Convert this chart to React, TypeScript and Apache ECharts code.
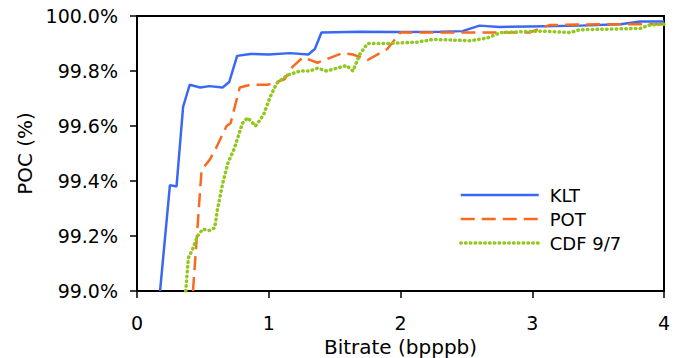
import React, { useEffect, useRef } from "react";
import * as echarts from "echarts";

const kltX = [0.175, 0.25, 0.30, 0.35, 0.40, 0.48, 0.55, 0.65, 0.70, 0.76, 0.86, 1.0, 1.16, 1.30, 1.35, 1.40, 1.69, 2.0, 2.3, 2.47, 2.6, 2.75, 2.98, 3.36, 3.67, 3.82, 4.0];
const kltY = [99.0, 99.385, 99.38, 99.67, 99.75, 99.74, 99.745, 99.74, 99.76, 99.855, 99.862, 99.86, 99.865, 99.86, 99.88, 99.94, 99.943, 99.942, 99.943, 99.945, 99.965, 99.96, 99.962, 99.965, 99.97, 99.98, 99.98];

const potX = [0.425, 0.49, 0.55, 0.59, 0.68, 0.71, 0.78, 0.86, 0.99, 1.06, 1.12, 1.18, 1.26, 1.37, 1.56, 1.64, 1.75, 1.90, 2.0, 2.35, 2.76, 2.98, 3.13, 3.51, 4.0];
const potY = [99.0, 99.44, 99.476, 99.51, 99.60, 99.61, 99.74, 99.75, 99.75, 99.76, 99.77, 99.815, 99.85, 99.83, 99.865, 99.86, 99.84, 99.88, 99.94, 99.94, 99.94, 99.94, 99.967, 99.97, 99.97];

const cdfX = [0.37, 0.39, 0.42, 0.46, 0.50, 0.55, 0.59, 0.61, 0.65, 0.69, 0.74, 0.80, 0.84, 0.90, 0.96, 1.01, 1.06, 1.14, 1.24, 1.31, 1.37, 1.44, 1.59, 1.64, 1.69, 1.75, 1.90, 2.13, 2.25, 2.53, 2.66, 2.76, 3.06, 3.29, 3.36, 3.82, 3.89, 4.0];
const cdfY = [99.0, 99.12, 99.15, 99.2, 99.225, 99.22, 99.23, 99.295, 99.39, 99.465, 99.52, 99.61, 99.63, 99.60, 99.64, 99.705, 99.755, 99.785, 99.80, 99.80, 99.81, 99.80, 99.82, 99.80, 99.86, 99.90, 99.90, 99.905, 99.915, 99.91, 99.92, 99.94, 99.945, 99.94, 99.95, 99.955, 99.967, 99.97];

const seriesNames = ["KLT", "POT", "CDF 9/7"];
const xTicks = [0, 1, 2, 3, 4];

const zip = (xs: number[], ys: number[]) => xs.map((x, i) => [x, ys[i]]);

const COLORS = ["#3a68f5", "#f96a1f", "#92c81e"];
const LINESTYLES: any[] = [
  { color: COLORS[0], width: 2.5, type: "solid" },
  { color: COLORS[1], width: 2.5, type: [14, 7] },
  { color: COLORS[2], width: 3.5, type: [0.5, 4.3], cap: "round" },
];

export default function App() {
  const ref = useRef<HTMLDivElement>(null);
  useEffect(() => {
    if (!ref.current) return;
    const chart = echarts.init(ref.current, undefined, { renderer: "svg" });
    const font = "DejaVu Sans";
    const datasets = [zip(kltX, kltY), zip(potX, potY), zip(cdfX, cdfY)];
    chart.setOption({
      animation: false,
      textStyle: { fontFamily: font },
      grid: {
        left: 137,
        right: 18,
        top: 16,
        bottom: 67,
        outerBoundsMode: "none",
        containLabel: false,
        show: true,
        borderColor: "#000",
        borderWidth: 2,
        backgroundColor: "#fff",
      },
      legend: {
        orient: "vertical",
        left: 459,
        top: 186,
        padding: 0,
        itemWidth: 78,
        itemHeight: 18,
        itemGap: 6,
        data: seriesNames.map((n, i) => ({ name: n, lineStyle: LINESTYLES[i] })),
        itemStyle: { opacity: 0 },
        textStyle: {
          fontFamily: font,
          fontSize: 18,
          color: "#000",
          lineHeight: 18,
          padding: [0, 0, 0, 6],
        },
      },
      xAxis: {
        type: "value",
        min: xTicks[0],
        max: xTicks[xTicks.length - 1],
        interval: 1,
        name: "Bitrate (bpppb)",
        nameLocation: "middle",
        nameGap: 46,
        nameTextStyle: { fontFamily: font, fontSize: 20, color: "#000" },
        axisLine: { show: true, onZero: false, lineStyle: { color: "#000", width: 2 } },
        axisTick: { show: true, length: 7, lineStyle: { color: "#000", width: 1.5 } },
        axisLabel: { fontFamily: font, fontSize: 19, color: "#000", margin: 22 },
        splitLine: { show: false },
      },
      yAxis: {
        type: "value",
        min: 99,
        max: 100,
        interval: 0.2,
        name: "POC (%)",
        nameLocation: "middle",
        nameGap: 100,
        nameTextStyle: { fontFamily: font, fontSize: 20, color: "#000" },
        axisLine: { show: true, lineStyle: { color: "#000", width: 2 } },
        axisTick: { show: true, length: 7, lineStyle: { color: "#000", width: 1.5 } },
        axisLabel: {
          fontFamily: font,
          fontSize: 19,
          color: "#000",
          margin: 19,
          formatter: (v: number) => v.toFixed(1) + "%",
        },
        splitLine: { show: false },
      },
      series: seriesNames.map((n, i) => ({
        name: n,
        type: "line",
        data: datasets[i],
        symbol: "none",
        lineStyle: LINESTYLES[i],
        itemStyle: { color: COLORS[i] },
      })),
    });
    return () => chart.dispose();
  }, []);
  return (
    <div
      ref={ref}
      style={{ position: "fixed", left: 0, top: 0, width: 682, height: 358, background: "#fff" }}
    />
  );
}
